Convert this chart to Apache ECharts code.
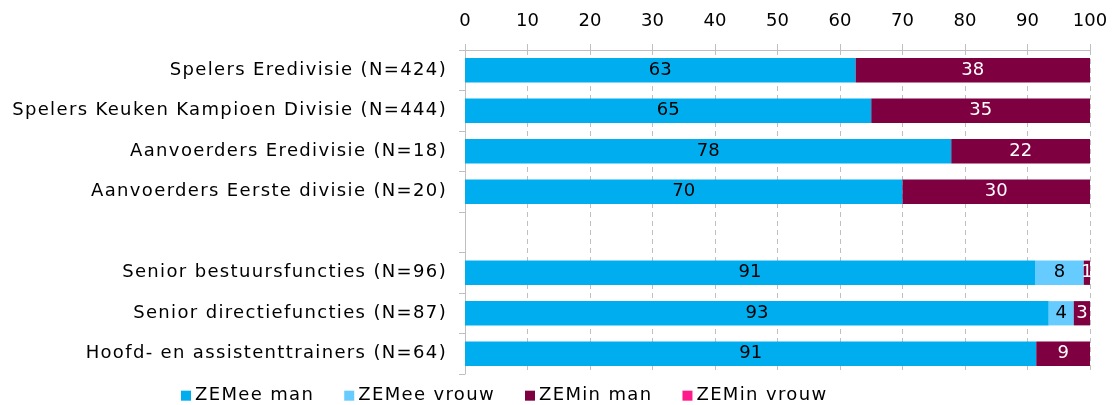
<!DOCTYPE html>
<html>
<head>
<meta charset="utf-8">
<script src="https://cdn.jsdelivr.net/npm/echarts@6/dist/echarts.min.js"></script>
<style>html,body{margin:0;padding:0;background:#fff}#c{width:1120px;height:405px}</style>
</head>
<body>
<div id="c"></div>
<script>
const categories = [
  'Spelers Eredivisie (N=424)',
  'Spelers Keuken Kampioen Divisie (N=444)',
  'Aanvoerders Eredivisie (N=18)',
  'Aanvoerders Eerste divisie (N=20)',
  '',
  'Senior bestuursfuncties (N=96)',
  'Senior directiefuncties (N=87)',
  'Hoofd- en assistenttrainers (N=64)'
];
const zemeeMan   = [62.5, 65, 77.8, 70, null, 91.2, 93.4, 91.4];
const zemeeVrouw = [0, 0, 0, 0, null, 7.8, 4.0, 0];
const zeminMan   = [37.5, 35, 22.2, 30, null, 1.0, 2.6, 8.6];
const zeminVrouw = [0, 0, 0, 0, null, 0, 0, 0];
const seriesNames = ['ZEMee man', 'ZEMee vrouw', 'ZEMin man', 'ZEMin vrouw'];
const colors = ['#00AEEF', '#66CCFF', '#7F0040', '#FF1A8C'];
const labelColors = ['#000', '#000', '#fff', '#fff'];

// slightly wider letter spacing for words, to mimic the original typeface
(function () {
  const P = window.CanvasRenderingContext2D && CanvasRenderingContext2D.prototype;
  if (!P || !('letterSpacing' in P)) return;
  const ft = P.fillText, mt = P.measureText;
  const sp = t => (/^[\d.]*$/.test(String(t)) ? '0px' : '1.35px');
  P.fillText = function (t) { this.letterSpacing = sp(t); return ft.apply(this, arguments); };
  P.measureText = function (t) { this.letterSpacing = sp(t); return mt.apply(this, arguments); };
})();

const FONT = 'DejaVu Sans';
const chart = echarts.init(document.getElementById('c'));
const mk = (name, data, i) => ({
  name, type: 'bar', stack: 'a', data, barWidth: '60%',
  itemStyle: { color: colors[i] },
  label: {
    show: true, position: 'inside', color: labelColors[i],
    fontFamily: FONT, fontSize: 18,
    formatter: p => (p.value ? Math.round(p.value) : '')
  }
});
chart.setOption({
  animation: false,
  textStyle: { fontFamily: FONT },
  grid: { left: 465, right: 30, top: 50, bottom: 31, containLabel: false },
  legend: {
    left: 176, top: 381, itemWidth: 10, itemHeight: 10, itemGap: 30,
    icon: 'rect',
    textStyle: { fontFamily: FONT, fontSize: 18, color: '#000', padding: [0, 0, 0, -1] },
    data: seriesNames
  },
  xAxis: {
    type: 'value', position: 'top', min: 0, max: 100, interval: 10,
    axisLine: { show: true, lineStyle: { color: '#BFBFBF' } },
    axisTick: { show: true, length: 6, lineStyle: { color: '#BFBFBF' } },
    axisLabel: { fontFamily: FONT, fontSize: 18, color: '#000', margin: 19 },
    splitLine: { show: true, lineStyle: { color: '#BFBFBF', type: [5, 4] } }
  },
  yAxis: {
    type: 'category', inverse: true, data: categories,
    axisLine: { show: true, lineStyle: { color: '#BFBFBF' } },
    axisTick: { show: true, length: 6, lineStyle: { color: '#BFBFBF' } },
    axisLabel: { fontFamily: FONT, fontSize: 18, color: '#000', margin: 18 }
  },
  series: [
    mk(seriesNames[0], zemeeMan, 0),
    mk(seriesNames[1], zemeeVrouw, 1),
    mk(seriesNames[2], zeminMan, 2),
    mk(seriesNames[3], zeminVrouw, 3)
  ]
});
</script>
</body>
</html>
